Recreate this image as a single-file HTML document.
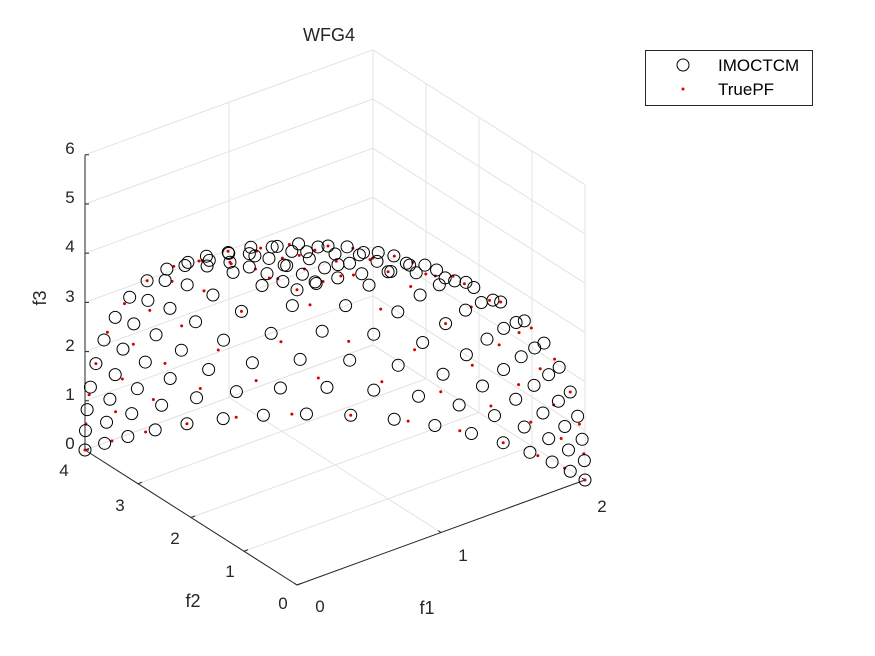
<!DOCTYPE html>
<html><head><meta charset="utf-8"><style>
body{margin:0;background:#fff}
svg{display:block;font-family:"Liberation Sans",Arial,sans-serif}
</style></head><body>
<svg id="s" width="875" height="656" viewBox="0 0 875 656" xmlns="http://www.w3.org/2000/svg">
<rect width="875" height="656" fill="#fff"/>
<g id="grid" stroke="#e3e3e3" stroke-width="1" fill="none"></g>
<g id="axes" stroke="#262626" stroke-width="1" fill="none"></g>
<g id="pts"></g>
<g font-size="17" fill="#262626">
<text x="329" y="41" text-anchor="middle" font-size="18">WFG4</text>
<text x="70" y="449" text-anchor="middle">0</text>
<text x="70" y="400" text-anchor="middle">1</text>
<text x="70" y="351" text-anchor="middle">2</text>
<text x="70" y="302" text-anchor="middle">3</text>
<text x="70" y="252" text-anchor="middle">4</text>
<text x="70" y="203" text-anchor="middle">5</text>
<text x="70" y="154" text-anchor="middle">6</text>
<text x="64" y="476" text-anchor="middle">4</text>
<text x="120" y="511" text-anchor="middle">3</text>
<text x="175" y="544" text-anchor="middle">2</text>
<text x="230" y="577" text-anchor="middle">1</text>
<text x="283" y="609" text-anchor="middle">0</text>
<text x="320" y="612" text-anchor="middle">0</text>
<text x="463" y="561" text-anchor="middle">1</text>
<text x="602" y="512" text-anchor="middle">2</text>
<text x="427" y="614" text-anchor="middle" font-size="18">f1</text>
<text x="193" y="607" text-anchor="middle" font-size="18">f2</text>
<text x="46" y="298" text-anchor="middle" font-size="18" transform="rotate(-90 46 298)">f3</text>
</g>
<g>
<rect x="645.5" y="50.5" width="167" height="55" fill="#fff" stroke="#262626"/>
<circle cx="683" cy="65" r="6" fill="none" stroke="#000"/>
<circle cx="683" cy="89" r="1.5" fill="#d00"/>
<text x="718" y="71" font-size="17" fill="#000">IMOCTCM</text>
<text x="718" y="95" font-size="17" fill="#000">TruePF</text>
</g>
</svg>
<script>
var O=[297,585],A=[144,-52.5],B=[-53,-33.75],C=[0,-49.2];
function P(x,y,z){return [O[0]+x*A[0]+y*B[0]+z*C[0],O[1]+x*A[1]+y*B[1]+z*C[1]];}
var NS="http://www.w3.org/2000/svg";
function line(g,p,q){var l=document.createElementNS(NS,"line");l.setAttribute("x1",p[0]);l.setAttribute("y1",p[1]);l.setAttribute("x2",q[0]);l.setAttribute("y2",q[1]);document.getElementById(g).appendChild(l);}
var i;
for(i=0;i<=2;i++){line("grid",P(i,0,0),P(i,4,0));line("grid",P(i,4,0),P(i,4,6));}
for(i=0;i<=4;i++){line("grid",P(0,i,0),P(2,i,0));line("grid",P(2,i,0),P(2,i,6));}
for(i=0;i<=6;i++){line("grid",P(0,4,i),P(2,4,i));line("grid",P(2,4,i),P(2,0,i));}
line("axes",P(0,0,0),P(2,0,0));line("axes",P(0,0,0),P(0,4,0));line("axes",P(0,4,0),P(0,4,6));
for(i=0;i<=2;i++){var p=P(i,0,0);line("axes",p,[p[0]-3,p[1]-2]);}
for(i=0;i<=4;i++){var p=P(0,i,0);line("axes",p,[p[0]+4,p[1]-1.5]);}
for(i=0;i<=6;i++){var p=P(0,4,i);line("axes",p,[p[0]+4,p[1]]);}
var g=document.getElementById("pts");
function pts(H,fn){
 for(var a=0;a<=H;a++)for(var b=0;b<=H-a;b++){var c=H-a-b;
  var x=a/H,y=b/H,z=c/H;
  var n=Math.sqrt(x*x+y*y+z*z);fn(P(2*x/n,4*y/n,6*z/n));}
}
pts(12,function(p){var c=document.createElementNS(NS,"circle");c.setAttribute("cx",p[0]);c.setAttribute("cy",p[1]);c.setAttribute("r",1.5);c.setAttribute("fill","#d40000");g.appendChild(c);});
pts(16,function(p){var c=document.createElementNS(NS,"circle");c.setAttribute("cx",p[0]);c.setAttribute("cy",p[1]);c.setAttribute("r",6);c.setAttribute("fill","none");c.setAttribute("stroke","#000");c.setAttribute("stroke-width","1");g.appendChild(c);});
</script>
</body></html>
